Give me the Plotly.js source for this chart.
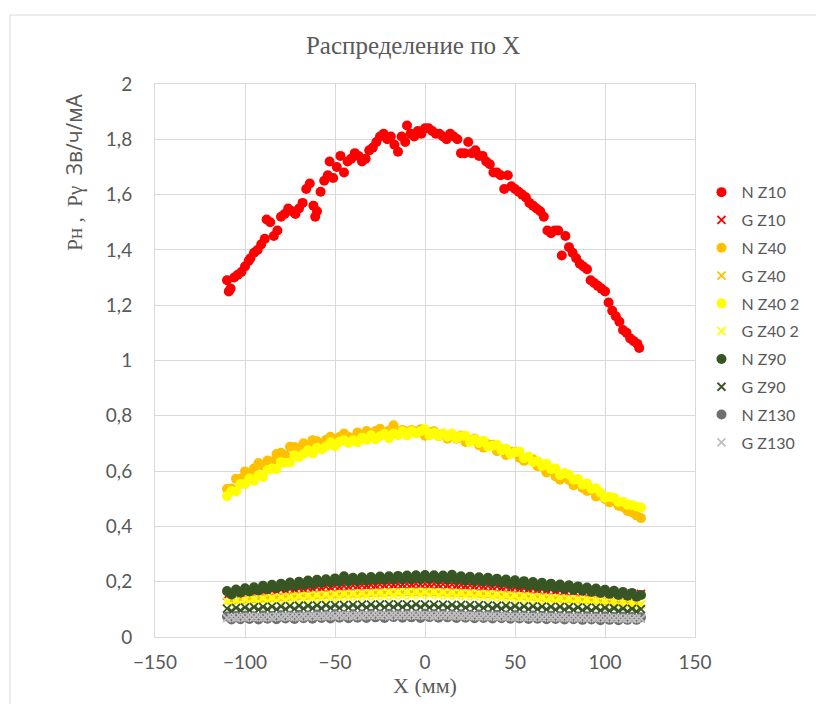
<!DOCTYPE html>
<html>
<head>
<meta charset="utf-8">
<script src="https://cdn.plot.ly/plotly-3.0.1.min.js"></script>
<style>
  html, body { margin: 0; padding: 0; background: #ffffff; }
  #chart { width: 816px; height: 704px; }
</style>
</head>
<body>
<div id="chart"></div>
<script>
// Dose rate profiles along X (mm) at several Z depths.

// Neutron dose at Z10 (own X positions)
const xNZ10 = [
  -110,-109,-108,-106,-104,-102,-100,-98,-97,-95,
  -93,-91,-89,-88,-86,-84,-82,-80,-78,-76,
  -74,-72,-70,-68,-66,-64,-62,-61,-60,-58,
  -56,-54,-53,-51,-49,-47,-45,-43,-41,-39,
  -37,-35,-33,-31,-29,-27,-25,-23,-21,-19,
  -17,-15,-13,-11,-10,-8,-6,-4,-2,0,
  2,4,6,8,10,12,14,16,18,20,
  22,24,26,28,30,32,34,36,38,40,
  42,44,46,48,50,52,54,56,58,60,
  62,64,66,68,70,72,74,76,78,80,
  82,84,86,88,90,92,94,96,98,100,
  102,104,106,108,110,112,114,116,118,119
];
const nZ10 = [
  1.29,1.25,1.26,1.30,1.31,1.32,1.34,1.36,1.37,1.39,
  1.40,1.42,1.44,1.51,1.50,1.45,1.47,1.52,1.53,1.55,
  1.54,1.53,1.55,1.57,1.62,1.64,1.56,1.52,1.54,1.61,
  1.65,1.67,1.72,1.66,1.70,1.74,1.68,1.72,1.73,1.75,
  1.74,1.72,1.73,1.76,1.77,1.79,1.81,1.82,1.80,1.81,
  1.78,1.755,1.81,1.79,1.85,1.82,1.81,1.83,1.82,1.84,
  1.84,1.83,1.82,1.82,1.81,1.80,1.82,1.81,1.80,1.75,
  1.75,1.79,1.75,1.76,1.74,1.74,1.72,1.71,1.68,1.68,
  1.67,1.62,1.67,1.63,1.62,1.61,1.60,1.59,1.57,1.56,
  1.55,1.54,1.52,1.47,1.46,1.47,1.47,1.38,1.45,1.41,
  1.39,1.37,1.35,1.34,1.33,1.29,1.28,1.27,1.26,1.25,
  1.21,1.18,1.16,1.14,1.11,1.10,1.08,1.07,1.06,1.045
];

// Common X positions for the other scans
const xScan = [
  -110,-107.5,-105,-102.5,-100,-97.5,-95,-92.5,-90,-87.5,
  -85,-82.5,-80,-77.5,-75,-72.5,-70,-67.5,-65,-62.5,
  -60,-57.5,-55,-52.5,-50,-47.5,-45,-42.5,-40,-37.5,
  -35,-32.5,-30,-27.5,-25,-22.5,-20,-17.5,-15,-12.5,
  -10,-7.5,-5,-2.5,0,2.5,5,7.5,10,12.5,
  15,17.5,20,22.5,25,27.5,30,32.5,35,37.5,
  40,42.5,45,47.5,50,52.5,55,57.5,60,62.5,
  65,67.5,70,72.5,75,77.5,80,82.5,85,87.5,
  90,92.5,95,97.5,100,102.5,105,107.5,110,112.5,
  115,117.5,120
];

const gZ10 = [
  .150,.156,.153,.159,.156,.162,.160,.164,.163,.166,
  .168,.166,.171,.169,.174,.172,.176,.174,.178,.176,
  .180,.178,.182,.179,.184,.181,.185,.183,.187,.184,
  .188,.186,.189,.187,.190,.188,.191,.189,.192,.190,
  .192,.190,.193,.191,.192,.190,.192,.189,.191,.188,
  .190,.187,.189,.186,.188,.184,.186,.183,.185,.181,
  .183,.179,.181,.177,.179,.175,.177,.173,.175,.171,
  .173,.169,.171,.167,.169,.166,.168,.164,.166,.163,
  .165,.162,.164,.161,.163,.160,.161,.158,.159,.156,
  .157,.154,.156
];

const nZ40 = [
  .535,.537,.572,.572,.599,.586,.609,.629,.619,.638,
  .635,.662,.666,.657,.688,.687,.683,.701,.687,.712,
  .708,.695,.713,.724,.711,.723,.736,.723,.718,.740,
  .731,.745,.728,.745,.753,.738,.747,.766,.738,.749,
  .735,.749,.740,.751,.728,.741,.744,.726,.735,.717,
  .731,.717,.729,.705,.712,.718,.694,.685,.697,.695,
  .672,.678,.658,.671,.670,.648,.637,.644,.643,.618,
  .617,.595,.603,.581,.569,.579,.568,.549,.556,.539,
  .528,.532,.508,.514,.499,.487,.493,.475,.470,.456,
  .450,.440,.430
];

const gZ40 = [
  .128,.132,.130,.135,.133,.137,.135,.139,.137,.141,
  .139,.143,.141,.145,.143,.147,.145,.149,.147,.151,
  .149,.152,.150,.154,.152,.155,.153,.157,.155,.158,
  .156,.159,.157,.160,.158,.161,.159,.162,.160,.162,
  .161,.163,.161,.163,.162,.163,.161,.162,.160,.161,
  .159,.160,.158,.159,.157,.158,.155,.156,.154,.155,
  .152,.153,.150,.151,.148,.149,.146,.147,.144,.145,
  .142,.143,.140,.141,.138,.139,.136,.137,.134,.135,
  .132,.133,.130,.130,.128,.128,.126,.125,.124,.123,
  .121,.120,.118
];

const nZ40b = [
  .509,.528,.526,.553,.553,.573,.565,.585,.579,.604,
  .609,.608,.632,.630,.631,.657,.650,.662,.675,.664,
  .684,.678,.689,.704,.690,.706,.712,.702,.712,.704,
  .721,.713,.730,.714,.726,.734,.719,.736,.730,.744,
  .729,.745,.736,.744,.751,.729,.739,.727,.737,.724,
  .736,.720,.726,.728,.705,.715,.702,.710,.688,.692,
  .695,.676,.681,.661,.668,.670,.647,.653,.632,.636,
  .619,.627,.607,.609,.585,.593,.588,.569,.571,.551,
  .555,.536,.538,.522,.504,.507,.504,.488,.489,.478,
  .477,.472,.468
];

const gZ40b = [
  .128,.118,.131,.121,.134,.124,.137,.127,.139,.129,
  .141,.131,.143,.133,.145,.135,.147,.137,.149,.139,
  .151,.140,.152,.142,.154,.143,.155,.145,.156,.146,
  .157,.147,.158,.148,.159,.149,.160,.150,.160,.150,
  .161,.151,.162,.152,.162,.152,.161,.151,.160,.150,
  .159,.149,.158,.148,.157,.147,.155,.145,.154,.144,
  .152,.142,.150,.140,.148,.138,.146,.136,.144,.134,
  .142,.132,.140,.130,.138,.128,.136,.126,.134,.124,
  .132,.122,.130,.120,.128,.118,.126,.116,.124,.114,
  .121,.112,.118
];

const nZ90 = [
  .166,.154,.172,.160,.176,.165,.180,.168,.185,.173,
  .189,.177,.193,.181,.197,.184,.200,.188,.204,.191,
  .207,.195,.209,.197,.212,.199,.220,.201,.214,.202,
  .216,.203,.217,.205,.219,.206,.220,.207,.221,.208,
  .222,.208,.223,.209,.224,.210,.223,.209,.222,.208,
  .225,.206,.220,.204,.218,.202,.216,.200,.214,.198,
  .211,.195,.208,.192,.205,.189,.202,.186,.199,.183,
  .196,.180,.193,.177,.190,.174,.187,.171,.183,.167,
  .179,.163,.175,.159,.171,.156,.167,.152,.163,.149,
  .159,.146,.152
];

const gZ90 = [
  .103,.094,.105,.096,.107,.097,.108,.099,.109,.100,
  .110,.100,.111,.101,.112,.102,.113,.103,.113,.104,
  .114,.104,.115,.105,.115,.105,.116,.106,.116,.106,
  .117,.107,.117,.107,.118,.107,.118,.108,.118,.108,
  .118,.108,.118,.108,.118,.107,.117,.107,.117,.107,
  .116,.106,.116,.106,.115,.105,.115,.105,.114,.104,
  .113,.103,.113,.103,.112,.102,.111,.101,.111,.101,
  .110,.100,.109,.099,.109,.099,.108,.098,.107,.097,
  .106,.096,.106,.096,.105,.095,.104,.094,.103,.093,
  .102,.093,.101
];

const nZ130 = [
  .074,.063,.076,.064,.077,.065,.075,.063,.078,.066,
  .076,.064,.079,.067,.077,.065,.080,.068,.078,.066,
  .081,.069,.079,.067,.082,.070,.080,.068,.082,.070,
  .081,.069,.083,.071,.081,.069,.084,.072,.082,.070,
  .083,.071,.081,.069,.084,.072,.082,.070,.083,.071,
  .081,.069,.082,.070,.080,.068,.081,.069,.079,.067,
  .080,.068,.078,.066,.079,.067,.077,.065,.078,.066,
  .076,.064,.077,.065,.075,.063,.076,.064,.074,.062,
  .075,.063,.073,.061,.074,.062,.072,.061,.073,.062,
  .072,.062,.071
];

const gZ130 = [
  .068,.071,.069,.072,.070,.073,.071,.072,.070,.073,
  .071,.074,.072,.075,.073,.074,.072,.075,.073,.076,
  .074,.076,.075,.077,.075,.078,.076,.077,.075,.078,
  .076,.078,.077,.079,.077,.078,.076,.079,.077,.078,
  .077,.079,.078,.079,.077,.078,.076,.078,.077,.078,
  .076,.077,.075,.077,.075,.076,.074,.076,.074,.075,
  .073,.075,.073,.074,.072,.074,.072,.073,.071,.073,
  .071,.072,.070,.072,.070,.071,.069,.071,.069,.070,
  .068,.070,.068,.069,.067,.069,.067,.068,.066,.068,
  .066,.067,.066
];

const seriesNames = ['N Z10','G Z10','N Z40','G Z40','N Z40 2','G Z40 2','N Z90','G Z90','N Z130','G Z130'];

const INK = '#595959';
const GRID = '#D9D9D9';

function dots(name, x, y, color, idx) {
  return {
    type: 'scatter', mode: 'markers', name: name, x: x, y: y,
    legendgroup: 'g' + idx,
    marker: { symbol: 'circle', size: 10, color: color, line: { width: 0 } },
    hoverinfo: 'x+y'
  };
}
function crosses(name, x, y, color, idx) {
  return {
    type: 'scatter', mode: 'markers', name: name, x: x, y: y,
    legendgroup: 'g' + idx,
    marker: { symbol: 'x-thin-open', size: 8, color: color, line: { width: 1.8, color: color } },
    hoverinfo: 'x+y'
  };
}

const traces = [
  dots(seriesNames[0], xNZ10, nZ10, '#FF0000', 0),
  crosses(seriesNames[1], xScan, gZ10, '#FF0000', 1),
  dots(seriesNames[2], xScan, nZ40, '#FFC000', 2),
  crosses(seriesNames[3], xScan, gZ40, '#FFC000', 3),
  dots(seriesNames[4], xScan, nZ40b, '#FFFF00', 4),
  crosses(seriesNames[5], xScan, gZ40b, '#FFFF00', 5),
  dots(seriesNames[6], xScan, nZ90, '#375623', 6),
  crosses(seriesNames[7], xScan, gZ90, '#375623', 7),
  dots(seriesNames[8], xScan, nZ130, '#6F6F6F', 8),
  crosses(seriesNames[9], xScan, gZ130, '#BFBFBF', 9)
];

const layout = {
  width: 816, height: 704,
  margin: { l: 155, r: 110, t: 84, b: 67 },
  paper_bgcolor: '#ffffff', plot_bgcolor: '#ffffff',
  separators: ', ',
  font: { family: 'Lato, "Open Sans", sans-serif', color: INK, size: 19 },
  title: {
    text: 'Распределение по X',
    font: { family: '"Liberation Serif", serif', size: 25, color: INK },
    x: 0.478, xref: 'paper', xanchor: 'center',
    y: 1 - 45 / 704, yref: 'container', yanchor: 'middle'
  },
  xaxis: {
    range: [-150, 150], dtick: 50, tick0: 0,
    showgrid: true, gridcolor: GRID, gridwidth: 1,
    showline: true, mirror: true, linecolor: GRID, linewidth: 1,
    zeroline: false, ticks: '', ticklabelstandoff: 8,
    tickfont: { family: 'Lato, sans-serif', size: 19, color: INK },
    title: {
      text: 'X (мм)', standoff: 4,
      font: { family: '"Liberation Serif", serif', size: 22, color: INK }
    }
  },
  yaxis: {
    range: [0, 2], dtick: 0.2, tick0: 0,
    showgrid: true, gridcolor: GRID, gridwidth: 1,
    showline: true, mirror: true, linecolor: GRID, linewidth: 1,
    zeroline: false, ticks: '', ticklabelstandoff: 18,
    tickfont: { family: 'Lato, sans-serif', size: 19, color: INK }
  },
  legend: {
    x: 1.012, xanchor: 'left', y: 0.835, yanchor: 'top',
    bgcolor: 'rgba(0,0,0,0)',
    font: { family: 'Lato, sans-serif', size: 16, color: INK },
    tracegroupgap: 4, itemsizing: 'trace'
  },
  annotations: [{
    text: 'Рн ,  Рγ  <span style="font-family:\'Open Sans\', sans-serif">Зв/ч/мА</span>',
    xref: 'paper', yref: 'paper',
    x: (72 - 155) / 551, y: (637 - 172) / 553,
    xanchor: 'center', yanchor: 'middle',
    textangle: -90, showarrow: false,
    font: { family: '"Liberation Serif", serif', size: 21, color: INK }
  }],
  shapes: [{
    type: 'rect', xref: 'paper', yref: 'paper',
    x0: (7 - 155) / 551, x1: 1.4, y0: -0.3, y1: (637 - 15) / 553,
    line: { color: GRID, width: 1 }, fillcolor: 'rgba(0,0,0,0)', layer: 'below'
  }]
};

Plotly.newPlot('chart', traces, layout, { displayModeBar: false, responsive: false });
</script>
</body>
</html>
